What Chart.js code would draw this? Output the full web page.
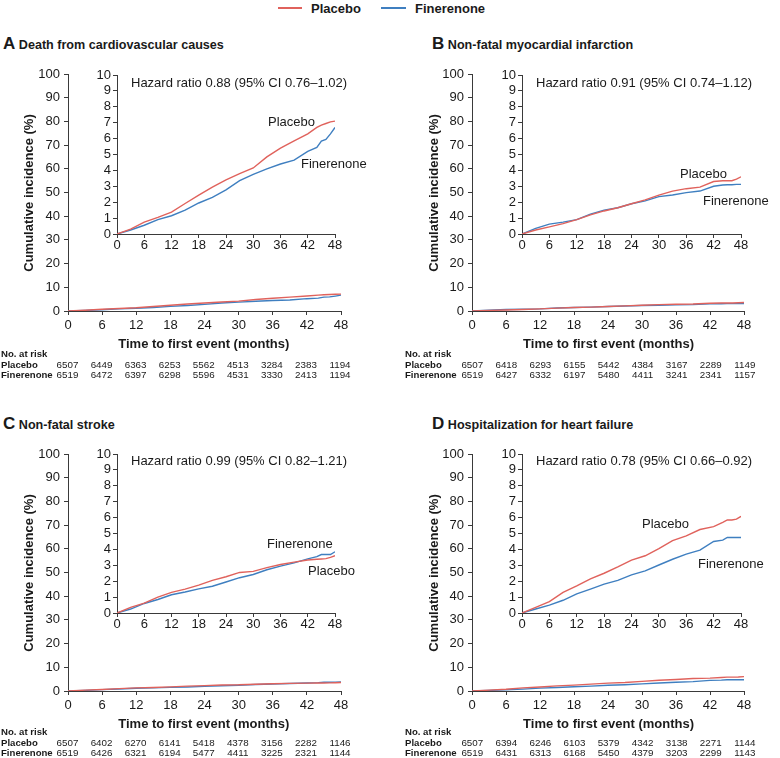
<!DOCTYPE html>
<html><head><meta charset="utf-8">
<script src="https://cdn.jsdelivr.net/npm/chart.js@4/dist/chart.umd.min.js"></script>
<style>
html,body{margin:0;padding:0;background:#fff}
body{width:780px;height:758px;position:relative;overflow:hidden;font-family:"Liberation Sans",Arial,sans-serif;color:#1a1a1a}
.t{position:absolute;white-space:nowrap;line-height:1}
canvas{position:absolute}
.b{font-weight:bold}
</style></head><body>
<script>
// ---------- data ----------
const months = [0,3,6,9,12,15,18,21,24,27,30,33,36,39,42,44,45,46,47,48];
const A_placebo    = [0,0.30,0.75,1.05,1.38,1.92,2.45,2.95,3.40,3.80,4.15,4.85,5.40,5.85,6.30,6.70,6.85,6.95,7.05,7.10];
const A_finerenone = [0,0.25,0.55,0.90,1.15,1.50,1.95,2.30,2.78,3.35,3.75,4.10,4.40,4.65,5.20,5.45,5.85,5.95,6.30,6.70];
const B_placebo    = [0,0.25,0.45,0.65,0.90,1.20,1.45,1.65,1.90,2.15,2.45,2.70,2.85,2.95,3.30,3.35,3.35,3.35,3.45,3.60];
const B_finerenone = [0,0.35,0.62,0.75,0.90,1.25,1.50,1.65,1.90,2.08,2.35,2.45,2.60,2.70,3.00,3.08,3.10,3.10,3.12,3.12];
const C_placebo    = [0,0.35,0.62,1.00,1.30,1.50,1.75,2.05,2.28,2.55,2.62,2.85,3.05,3.20,3.33,3.38,3.40,3.42,3.50,3.60];
const C_finerenone = [0,0.25,0.60,0.85,1.15,1.32,1.52,1.68,1.95,2.22,2.42,2.72,2.95,3.15,3.40,3.55,3.68,3.68,3.68,3.85];
const D_placebo    = [0,0.35,0.72,1.30,1.70,2.15,2.50,2.90,3.33,3.60,4.05,4.55,4.85,5.25,5.43,5.70,5.85,5.85,5.90,6.08];
const D_finerenone = [0,0.25,0.50,0.80,1.20,1.50,1.82,2.05,2.40,2.65,3.02,3.38,3.70,3.95,4.50,4.58,4.75,4.75,4.75,4.75];

const tickMonths = [0,6,12,18,24,30,36,42,48];
const A_riskPlacebo    = [6507,6449,6363,6253,5562,4513,3284,2383,1194];
const A_riskFinerenone = [6519,6472,6397,6298,5596,4531,3330,2413,1194];
const B_riskPlacebo    = [6507,6418,6293,6155,5442,4384,3167,2289,1149];
const B_riskFinerenone = [6519,6427,6332,6197,5480,4411,3241,2341,1157];
const C_riskPlacebo    = [6507,6402,6270,6141,5418,4378,3156,2282,1146];
const C_riskFinerenone = [6519,6426,6321,6194,5477,4411,3225,2321,1144];
const D_riskPlacebo    = [6507,6394,6246,6103,5379,4342,3138,2271,1144];
const D_riskFinerenone = [6519,6431,6313,6168,5450,4379,3203,2299,1143];

const panelTitles = ["Death from cardiovascular causes","Non-fatal myocardial infarction","Non-fatal stroke","Hospitalization for heart failure"];
const panelLetters = ["A","B","C","D"];
const hazardTexts = ["Hazard ratio 0.88 (95% CI 0.76\u20131.02)","Hazard ratio 0.91 (95% CI 0.74\u20131.12)","Hazard ratio 0.99 (95% CI 0.82\u20131.21)","Hazard ratio 0.78 (95% CI 0.66\u20130.92)"];

// ---------- style ----------
const RED = '#e0625c', BLUE = '#3f7fc0', AX = '#3a3a3a', TXT = '#1a1a1a';
const FONT = '"Liberation Sans", Arial, sans-serif';

function text(x, y, str, opts) {
  opts = opts || {};
  const d = document.createElement('div');
  d.className = 't' + (opts.bold ? ' b' : '');
  d.style.left = x + 'px'; d.style.top = y + 'px';
  d.style.fontSize = (opts.size || 13) + 'px';
  const tx = opts.align === 'c' ? '-50%' : (opts.align === 'r' ? '-100%' : '0');
  d.style.transform = 'translate(' + tx + ',-50%)';
  if (opts.rot) { d.style.transformOrigin = 'center'; d.style.transform = 'translate(-50%,-50%) rotate(-90deg)'; }
  if (opts.color) d.style.color = opts.color;
  d.innerHTML = str;
  document.body.appendChild(d);
  return d;
}

function makeChart(area, yMax, yStep, placebo, finerenone, inset) {
  const padL = 60, padT = 12, padR = 14, axH = 30;
  const c = document.createElement('canvas');
  const W = Math.round(area.r - area.l) + padL + padR;
  const H = Math.round(area.b - area.t) + padT + axH;
  c.width = W; c.height = H;
  c.style.left = (area.l - padL) + 'px';
  c.style.top = (area.t - padT) + 'px';
  c.style.width = W + 'px'; c.style.height = H + 'px';
  document.body.appendChild(c);
  const tickFont = {family: FONT, size: 13};
  new Chart(c, {
    type: 'line',
    data: {
      datasets: [
        {data: months.map((m,i)=>({x:m, y:placebo[i]})), borderColor: RED, borderWidth: 1.4},
        {data: months.map((m,i)=>({x:m, y:finerenone[i]})), borderColor: BLUE, borderWidth: 1.4}
      ]
    },
    options: {
      responsive: false, animation: false, devicePixelRatio: 1,
      layout: {padding: {left: 0, top: padT, right: padR, bottom: 0}},
      plugins: {legend: {display: false}, tooltip: {enabled: false}},
      elements: {point: {radius: 0}, line: {tension: 0, fill: false}},
      scales: {
        x: {type: 'linear', min: 0, max: 48,
            ticks: {stepSize: 6, autoSkip: false, maxRotation: 0, font: tickFont, color: TXT, padding: inset ? 0 : 3},
            grid: {drawOnChartArea: false, drawTicks: true, tickLength: 4, color: AX},
            border: {color: AX, width: 1},
            afterFit: s => { s.height = axH; }},
        y: {type: 'linear', min: 0, max: yMax,
            ticks: {stepSize: yStep, autoSkip: false, font: tickFont, color: TXT, padding: inset ? 2 : 4},
            grid: {drawOnChartArea: false, drawTicks: true, tickLength: 4, color: AX},
            border: {color: AX, width: 1},
            afterFit: s => { s.width = padL; }}
      }
    }
  });
}

// ---------- layout ----------
const series = [[A_placebo,A_finerenone],[B_placebo,B_finerenone],[C_placebo,C_finerenone],[D_placebo,D_finerenone]];
const risks = [[A_riskPlacebo,A_riskFinerenone],[B_riskPlacebo,B_riskFinerenone],[C_riskPlacebo,C_riskFinerenone],[D_riskPlacebo,D_riskFinerenone]];
const colX = [0, 404.8];      // horizontal panel offsets
const rowY = [0, 379.6];      // vertical panel offsets
const curveLabels = [
  [[268,121,'Placebo'],[301,163,'Finerenone']],
  [[680,173,'Placebo'],[703,200,'Finerenone']],
  [[267,543,'Finerenone'],[308,570,'Placebo']],
  [[642,523,'Placebo'],[698,563,'Finerenone']]
];

for (let p = 0; p < 4; p++) {
  const ox = colX[p % 2], oy = rowY[Math.floor(p / 2)];
  const main = {l: 67.5 + ox, r: 340 + ox, t: 74 + oy, b: 311 + oy};
  const ins  = {l: 116.7 + ox + (p%2 ? 0.2 : 0), r: 335 + ox + (p%2 ? 0.9 : 0), t: 74.5 + oy, b: 233 + oy};
  makeChart(main, 100, 10, series[p][0], series[p][1], false);
  makeChart(ins, 10, 1, series[p][0], series[p][1], true);

  // panel title
  text(3 + (p%2 ? 429 : 0), 43 + oy, '<span style="font-size:17px">' + panelLetters[p] + '</span> ' + panelTitles[p], {bold: true, size: 12.6});
  // axis titles
  text(28 + ox, 193 + oy, 'Cumulative incidence (%)', {bold: true, size: 13, rot: true});
  text((main.l + main.r) / 2, 343 + oy, 'Time to first event (months)', {bold: true, size: 13, align: 'c'});
  // hazard ratio
  text(131 + (p%2 ? 405 : 0), 82 + oy + (p >= 2 ? -1.5 : 0), hazardTexts[p], {size: 13});
  // curve labels
  curveLabels[p].forEach(l => text(l[0], l[1], l[2], {size: 13}));
  // risk table
  const lx = 1 + (p%2 ? 404 : 0);
  const ry = oy - (p >= 2 ? 1.2 : 0);
  text(lx, 354 + ry, 'No. at risk', {bold: true, size: 9.6});
  text(lx, 364.5 + ry, 'Placebo', {bold: true, size: 9.6});
  text(lx, 375 + ry, 'Finerenone', {bold: true, size: 9.6});
  tickMonths.forEach((m, i) => {
    const x = main.l + (main.r - main.l) * m / 48;
    text(x, 364.5 + ry, String(risks[p][0][i]), {size: 9.8, align: 'c'});
    text(x, 375 + ry, String(risks[p][1][i]), {size: 9.8, align: 'c'});
  });
}

// legend
(function(){
  const mk = (x1, x2, col) => { const d = document.createElement('div'); d.style.cssText = 'position:absolute;left:'+x1+'px;top:7px;width:'+(x2-x1)+'px;height:2px;background:'+col; document.body.appendChild(d); };
  mk(278, 302, RED); text(311, 8, 'Placebo', {bold: true, size: 13});
  mk(381, 406, BLUE); text(415, 8, 'Finerenone', {bold: true, size: 13});
})();
</script>
</body></html>
